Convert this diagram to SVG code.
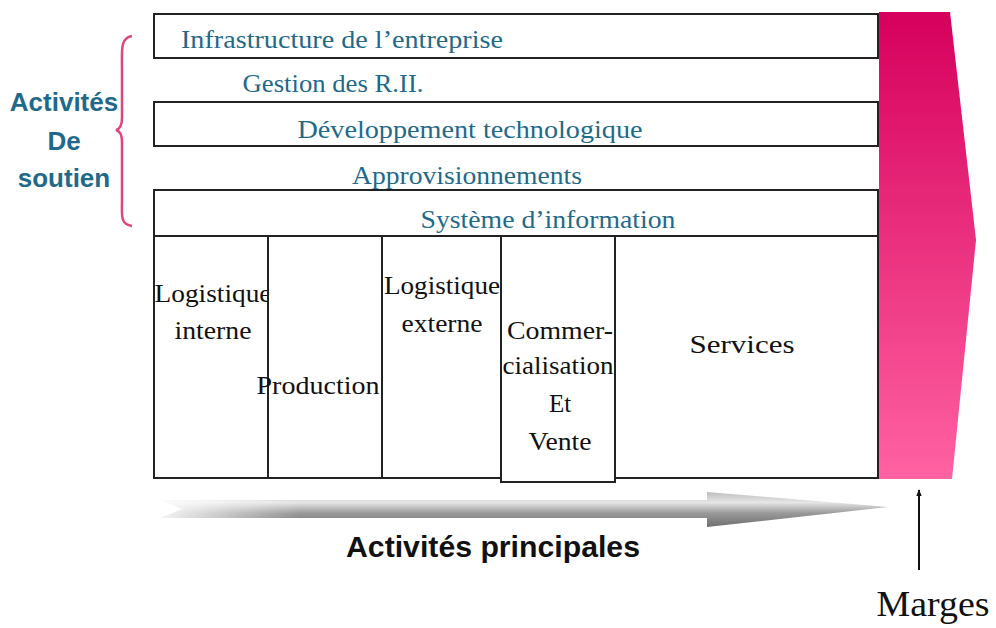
<svg xmlns="http://www.w3.org/2000/svg" width="996" height="628" viewBox="0 0 996 628">
<style>
.box{fill:#fff;stroke:#222;stroke-width:2}
.sup{font-family:"Liberation Serif",serif;font-size:25px;fill:#1f6a8a;text-anchor:middle}
.prim{font-family:"Liberation Serif",serif;font-size:25px;fill:#111;text-anchor:middle}
.lbl{font-family:"Liberation Sans",Arial,sans-serif;font-weight:bold;font-size:26px;fill:#1f6a8a;text-anchor:middle}
</style>
<defs>
<linearGradient id="pink" x1="0" y1="0" x2="0" y2="1">
<stop offset="0" stop-color="#d6005c"/>
<stop offset="1" stop-color="#ff62a2"/>
</linearGradient>
<linearGradient id="gray" x1="0" y1="0" x2="0" y2="1">
<stop offset="0" stop-color="#bdbdbd"/>
<stop offset="0.3" stop-color="#e6e6e6"/>
<stop offset="0.6" stop-color="#9a9a9a"/>
<stop offset="1" stop-color="#6f6f6f"/>
</linearGradient>
<linearGradient id="fade" x1="0" y1="0" x2="1" y2="0">
<stop offset="0" stop-color="#fff" stop-opacity="0.9"/>
<stop offset="0.25" stop-color="#fff" stop-opacity="0"/>
</linearGradient>
<marker id="ah" viewBox="0 0 10 10" refX="9" refY="5" markerWidth="7" markerHeight="9" orient="auto" markerUnits="userSpaceOnUse">
<path d="M0,1 L10,5 L0,9 z" fill="#111"/>
</marker>
</defs>

<g id="marge-band">
<path d="M879,12 L950,12 L976,240 L952,479 L879,479 Z" fill="url(#pink)"/>
</g>

<g id="support">
<g id="infrastructure">
<rect class="box" x="154" y="14" width="724" height="44"/>
<text class="sup" x="342" y="48" textLength="322" lengthAdjust="spacingAndGlyphs">Infrastructure  de l’entreprise</text>
</g>
<g id="grh">
<line x1="154" y1="58" x2="878" y2="58" stroke="#222" stroke-width="2"/>
<text class="sup" x="333" y="92" textLength="181" lengthAdjust="spacingAndGlyphs">Gestion des R.II.</text>
</g>
<g id="developpement">
<rect class="box" x="154" y="102" width="724" height="44"/>
<text class="sup" x="470" y="138" textLength="345" lengthAdjust="spacingAndGlyphs">Développement  technologique</text>
</g>
<g id="approvisionnements">
<text class="sup" x="467" y="184" textLength="230" lengthAdjust="spacingAndGlyphs">Approvisionnements</text>
</g>
<g id="systeme">
<rect class="box" x="154" y="190" width="724" height="46"/>
<text class="sup" x="548" y="228" textLength="255" lengthAdjust="spacingAndGlyphs">Système d’information</text>
</g>
</g>

<g id="primary">
<g id="logistique-interne">
<rect class="box" x="154" y="236" width="114" height="242"/>
<text class="prim" x="213" y="302" textLength="117" lengthAdjust="spacingAndGlyphs">Logistique</text>
<text class="prim" x="213" y="339" textLength="77" lengthAdjust="spacingAndGlyphs">interne</text>
</g>
<g id="production">
<rect class="box" x="268" y="236" width="114" height="242"/>
<text class="prim" x="318" y="394" textLength="123" lengthAdjust="spacingAndGlyphs">Production</text>
</g>
<g id="logistique-externe">
<rect class="box" x="382" y="236" width="119" height="242"/>
<text class="prim" x="442" y="294" textLength="116" lengthAdjust="spacingAndGlyphs">Logistique</text>
<text class="prim" x="442" y="332" textLength="81" lengthAdjust="spacingAndGlyphs">externe</text>
</g>
<g id="services">
<rect class="box" x="615" y="236" width="263" height="242"/>
<text class="prim" x="742" y="353" font-size="27" textLength="105" lengthAdjust="spacingAndGlyphs">Services</text>
</g>
<g id="commercialisation">
<rect class="box" x="501" y="236" width="114" height="246"/>
<text class="prim" x="560" y="339" textLength="106" lengthAdjust="spacingAndGlyphs">Commer-</text>
<text class="prim" x="558" y="374" textLength="111" lengthAdjust="spacingAndGlyphs">cialisation</text>
<text class="prim" x="560" y="412">Et</text>
<text class="prim" x="560" y="450" textLength="63" lengthAdjust="spacingAndGlyphs">Vente</text>
</g>
</g>

<g id="soutien-label">
<path d="M132,36 C120,38 122,50 122,70 L122,118 C122,126 120,129 116,130 C120,131 122,134 122,142 L122,200 C122,216 120,224 132,226" fill="none" stroke="#e0457d" stroke-width="2.5"/>
<text class="lbl" x="64" y="111">Activités</text>
<text class="lbl" x="64" y="150">De</text>
<text class="lbl" x="64" y="187">soutien</text>
</g>

<g id="principales-arrow">
<path d="M160,500 L707,500 L707,492 L888,507 L707,527 L707,518 L160,518 L182,509 Z" fill="url(#gray)"/>
<rect x="160" y="498" width="560" height="22" fill="url(#fade)"/>
<text x="493" y="557" font-family="'Liberation Sans',Arial,sans-serif" font-weight="bold" font-size="30" fill="#111" text-anchor="middle" textLength="294" lengthAdjust="spacingAndGlyphs">Activités principales</text>
</g>

<g id="connectors">
<line x1="919" y1="570" x2="919" y2="490" stroke="#111" stroke-width="2" marker-end="url(#ah)"/>
</g>

<g id="marges">
<text x="933" y="616" font-family="'Liberation Serif',serif" font-size="36" fill="#111" text-anchor="middle" textLength="113" lengthAdjust="spacingAndGlyphs">Marges</text>
</g>
</svg>
